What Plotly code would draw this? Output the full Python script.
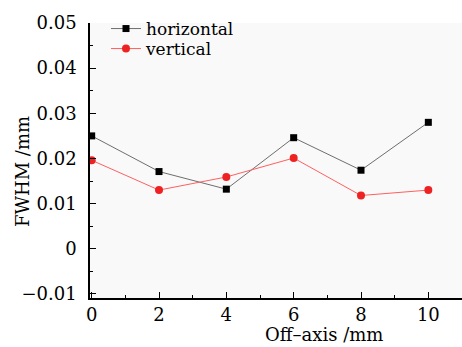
import plotly.graph_objects as go

offaxis = [0, 2, 4, 6, 8, 10]
horizontal = [0.0250, 0.0171, 0.0132, 0.0246, 0.0174, 0.0280]
vertical = [0.0196, 0.0130, 0.0159, 0.0201, 0.0118, 0.0130]

FONT = "DejaVu Serif"

fig = go.Figure()
fig.add_trace(go.Scatter(
    x=offaxis, y=horizontal, mode="lines+markers", name="horizontal",
    line=dict(color="#6e6e6e", width=1),
    marker=dict(symbol="square", size=7, color="black"),
    legend="legend",
))
fig.add_trace(go.Scatter(
    x=offaxis, y=vertical, mode="lines+markers", name="vertical",
    line=dict(color="#ff6060", width=1),
    marker=dict(symbol="circle", size=8, color="#ee2222"),
    legend="legend2",
))

leg_common = dict(xanchor="left", yanchor="middle", bgcolor="rgba(0,0,0,0)",
                  font=dict(size=17, family=FONT), borderwidth=0)

fig.update_layout(
    width=462, height=347,
    margin=dict(l=90, r=0, t=23, b=49),
    paper_bgcolor="white",
    plot_bgcolor="#f9f9f9",
    font=dict(family=FONT, size=17, color="black"),
    showlegend=True,
    legend=dict(x=0.043, y=(298 - 29) / 275, **leg_common),
    legend2=dict(x=0.043, y=(298 - 49) / 275, **leg_common),
    xaxis=dict(
        range=[-0.05, 11.0], tickvals=[0, 2, 4, 6, 8, 10],
        ticks="inside", ticklen=6, tickwidth=1, tickcolor="black",
        minor=dict(tickvals=[1, 3, 5, 7, 9], ticks="inside", ticklen=3, tickcolor="black"),
        showline=True, linecolor="black", linewidth=1.5,
        showgrid=False, zeroline=False,
        tickfont=dict(size=18),
    ),
    yaxis=dict(
        range=[-0.0109, 0.05], tickvals=[-0.01, 0, 0.01, 0.02, 0.03, 0.04, 0.05],
        ticktext=["\u22120.01", "0", "0.01", "0.02", "0.03", "0.04", "0.05"],
        ticks="inside", ticklen=6, tickwidth=1, tickcolor="black",
        minor=dict(tickvals=[-0.005, 0.005, 0.015, 0.025, 0.035, 0.045], ticks="inside", ticklen=3, tickcolor="black"),
        showline=True, linecolor="black", linewidth=1.5,
        showgrid=False, zeroline=False,
        tickfont=dict(size=18),
        ticklabelstandoff=8,
    ),
)

fig.add_annotation(
    text="FWHM /mm", xref="paper", yref="paper",
    x=(23 - 90) / 372, y=(298 - 172) / 275, xanchor="center", yanchor="middle",
    textangle=-90, showarrow=False, font=dict(size=18, family=FONT),
)
fig.add_annotation(
    text="Off\u2013axis /mm", xref="paper", yref="paper",
    x=0.63, y=0, yshift=-24, xanchor="center", yanchor="top",
    showarrow=False, font=dict(size=18, family=FONT),
)

fig.write_html("out.html")
